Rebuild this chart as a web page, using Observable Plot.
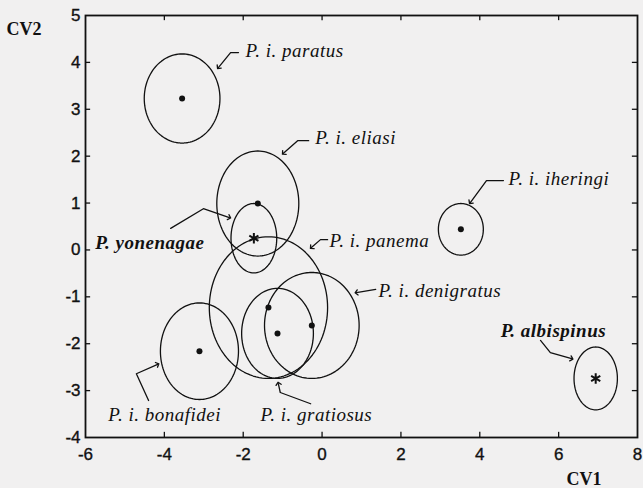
<!DOCTYPE html>
<html>
<head>
<meta charset="utf-8">
<script src="https://cdn.jsdelivr.net/npm/d3@7"></script>
<script src="https://cdn.jsdelivr.net/npm/@observablehq/plot@0.6"></script>
<style>
  html, body { margin: 0; padding: 0; background: #f1f0f0; }
  .lbl text { letter-spacing: 0.5px; }
  .tk text { stroke: #111; stroke-width: 0.35px; }
</style>
</head>
<body>
<div id="chart"></div>
<script>
// Group names
const groups = ["P. i. paratus", "P. i. eliasi", "P. yonenagae", "P. i. panema", "P. i. gratiosus",
                "P. i. denigratus", "P. i. bonafidei", "P. i. iheringi", "P. albispinus"];
// Group centroids (CV1, CV2)
const centerX = [-3.55, -1.63, -1.73, -1.36, -1.13, -0.26, -3.11, 3.52, 6.94];
const centerY = [3.23, 0.99, 0.25, -1.23, -1.78, -1.61, -2.16, 0.44, -2.74];
// Ellipse semi-axes (CV1, CV2)
const radiusX = [0.96, 1.04, 0.58, 1.50, 0.91, 1.20, 0.99, 0.57, 0.55];
const radiusY = [0.95, 1.12, 0.74, 1.51, 0.96, 1.13, 1.03, 0.55, 0.67];
// centroid symbol: species (star) or subspecies (dot)
const isSpecies = [false, false, true, false, false, false, false, false, true];

// Label anchors
const labelX = [-1.94, -0.17, -5.75, 0.19, -1.56, 1.43, -5.42, 4.73, 4.53];
const labelY = [4.25, 2.38, 0.16, 0.20, -3.51, -0.87, -3.51, 1.52, -1.72];

// Leader arrows (CV1, CV2 points, arrowhead at last point)
const arrowPaths = [
  [[-2.12, 4.21], [-2.32, 4.21], [-2.63, 3.89]],
  [[-0.34, 2.33], [-0.62, 2.33], [-0.98, 2.06]],
  [[-3.84, 0.46], [-3.01, 0.88], [-2.35, 0.69]],
  [[0.14, 0.22], [-0.04, 0.22], [-0.27, 0.05]],
  [[-0.29, -3.28], [-1.06, -3.04], [-1.11, -2.85]],
  [[1.36, -0.84], [0.87, -0.91]],
  [[-4.40, -3.21], [-4.71, -2.64], [-4.17, -2.44]],
  [[4.60, 1.48], [4.17, 1.48], [3.76, 1.01]],
  [[5.54, -1.93], [5.79, -2.19], [6.33, -2.32]]
];

const xTicks = [-6, -4, -2, 0, 2, 4, 6, 8];
const yTicks = [-4, -3, -2, -1, 0, 1, 2, 3, 4, 5];

// Build tables
const centers = groups.map((g, i) => ({name: g, x: centerX[i], y: centerY[i], star: isSpecies[i]}));
const ellipsePts = [];
groups.forEach((g, i) => {
  for (let k = 0; k <= 120; k++) {
    const t = 2 * Math.PI * k / 120;
    ellipsePts.push({name: g, x: centerX[i] + radiusX[i] * Math.cos(t), y: centerY[i] + radiusY[i] * Math.sin(t)});
  }
});
const labels = groups.map((g, i) => ({text: g, x: labelX[i], y: labelY[i], bold: isSpecies[i]}));
const arrowPts = [];
arrowPaths.forEach((p, i) => p.forEach(([x, y]) => arrowPts.push({id: i, x, y})));

const xLo = xTicks[0], xHi = xTicks[xTicks.length - 1];
const yLo = yTicks[0], yHi = yTicks[yTicks.length - 1];
const inner = a => a.slice(1, -1);

const chart = Plot.plot({
  width: 643,
  height: 488,
  marginLeft: 85,
  marginRight: 6,
  marginTop: 15,
  marginBottom: 51,
  x: {domain: [xLo, xHi]},
  y: {domain: [yLo, yHi]},
  style: {background: "#f1f0f0", color: "#111"},
  marks: [
    Plot.axisX(xTicks, {tickSize: 0, tickPadding: 10, fontSize: 17, fontFamily: "Liberation Sans", tickFormat: d => String(d), label: null, fill: "#111", className: "tk"}),
    Plot.axisY(yTicks, {tickSize: 0, tickPadding: 5, fontSize: 17, fontFamily: "Liberation Sans", tickFormat: d => String(d), label: null, fill: "#111", className: "tk"}),
    // inward ticks on all four sides
    Plot.ruleX(inner(xTicks), {x: d => d, y1: yLo, y2: yLo + 0.11, stroke: "#111", strokeWidth: 1.3}),
    Plot.ruleX(inner(xTicks), {x: d => d, y1: yHi, y2: yHi - 0.11, stroke: "#111", strokeWidth: 1.3}),
    Plot.ruleY(inner(yTicks), {y: d => d, x1: xLo, x2: xLo + 0.13, stroke: "#111", strokeWidth: 1.3}),
    Plot.ruleY(inner(yTicks), {y: d => d, x1: xHi, x2: xHi - 0.13, stroke: "#111", strokeWidth: 1.3}),
    Plot.frame({stroke: "#111", strokeWidth: 1.8}),
    Plot.line(ellipsePts, {x: "x", y: "y", z: "name", stroke: "#111", strokeWidth: 1.3, curve: "linear"}),
    Plot.dot(centers.filter(d => !d.star), {x: "x", y: "y", r: 3, fill: "#111", stroke: "none"}),
    Plot.dot(centers.filter(d => d.star), {x: "x", y: "y", r: 5, symbol: "asterisk", stroke: "#111", strokeWidth: 2}),
    Plot.line(arrowPts, {x: "x", y: "y", z: "id", stroke: "#111", strokeWidth: 1.3, markerEnd: "arrow"}),
    Plot.text(labels.filter(d => !d.bold), {x: "x", y: "y", text: "text", textAnchor: "start", fontFamily: "Liberation Serif", fontStyle: "italic", fontSize: 19, fill: "#111", className: "lbl"}),
    Plot.text(labels.filter(d => d.bold), {x: "x", y: "y", text: "text", textAnchor: "start", fontFamily: "Liberation Serif", fontStyle: "italic", fontWeight: "bold", fontSize: 19, fill: "#111", className: "lbl"}),
    // axis titles
    Plot.text(["CV2"], {frameAnchor: "top-left", lineAnchor: "middle", dx: -79, dy: 14, text: d => d, textAnchor: "start", fontFamily: "Liberation Serif", fontWeight: "bold", fontSize: 18, fill: "#111"}),
    Plot.text(["CV1"], {frameAnchor: "bottom-right", lineAnchor: "middle", dx: -71, dy: 42, text: d => d, textAnchor: "start", fontFamily: "Liberation Serif", fontWeight: "bold", fontSize: 18, fill: "#111"})
  ]
});
document.getElementById("chart").appendChild(chart);
</script>
</body>
</html>
